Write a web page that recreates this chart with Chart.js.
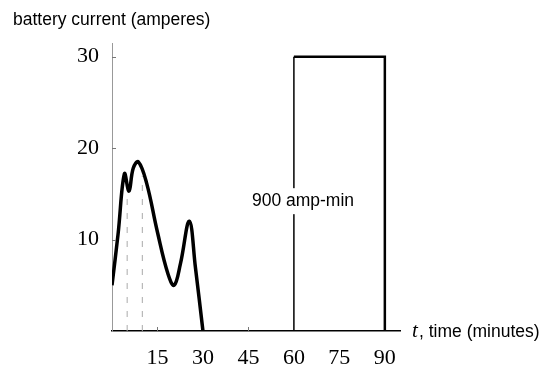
<!DOCTYPE html>
<html>
<head>
<meta charset="utf-8">
<script src="https://cdn.jsdelivr.net/npm/chart.js@4"></script>
<style>
  html, body { margin: 0; padding: 0; background: #fff; }
  #wrap { position: relative; width: 544px; height: 367px; }
</style>
</head>
<body>
<div id="wrap"><canvas id="chart" width="544" height="367"></canvas></div>
<script>
// battery current curve (minutes, amperes)
const times = [0, 2, 4.1, 5.6, 7, 8.7, 11.4, 15, 18.5, 20.5, 22.6, 25.5, 27.5, 30];
const amps = [5, 10.6, 17.2, 15.3, 17.8, 18.5, 16.2, 10.8, 6.2, 5.0, 7.4, 12.0, 7.0, 0];
// idle stretch
const idleTimes = [30, 60];
const idleAmps = [0, 0];
// constant 30 A block from 60 to 90 min
const blockTimes = [60, 60, 90, 90];
const blockAmps = [0, 30, 30, 0];
// faint drop lines
const dropTimes = [5, 10];
const dropTops = [15, 17];

const xTicks = [15, 30, 45, 60, 75, 90];
const yTicks = [10, 20, 30];
const blockLabel = '900 amp-min';

function pts(xs, ys) { return xs.map((x, i) => ({ x: x, y: ys[i] })); }

const dropSets = dropTimes.map((t, i) => ({
    data: pts([t, t], [0, dropTops[i]]),
    borderColor: '#aaa',
    borderWidth: 1,
    borderDash: [6, 8],
    pointRadius: 0
}));

const textPlugin = {
    id: 'texts',
    afterDatasetsDraw(chart) {
        const ctx = chart.ctx;
        const xs = chart.scales.x, ys = chart.scales.y;
        ctx.save();
        // small inner ticks
        ctx.strokeStyle = '#777';
        ctx.lineWidth = 1;
        yTicks.forEach(v => {
            const y = Math.round(ys.getPixelForValue(v)) + 0.5;
            ctx.beginPath(); ctx.moveTo(xs.left, y); ctx.lineTo(xs.left + 4, y); ctx.stroke();
        });
        [15, 45].forEach(v => {
            const x = Math.round(xs.getPixelForValue(v)) + 0.5;
            ctx.beginPath(); ctx.moveTo(x, ys.bottom); ctx.lineTo(x, ys.bottom - 4); ctx.stroke();
        });

        // block label with white backing
        ctx.font = '17.5px "Liberation Sans", Arial, sans-serif';
        ctx.textBaseline = 'middle';
        ctx.textAlign = 'center';
        const lx = xs.getPixelForValue(63), ly = ys.getPixelForValue(14.2);
        const w = ctx.measureText(blockLabel).width;
        ctx.fillStyle = '#fff';
        ctx.fillRect(lx - w / 2 - 3, ly - 13, w + 6, 26);
        ctx.fillStyle = '#000';
        ctx.fillText(blockLabel, lx, ly);

        // axis titles
        ctx.textAlign = 'left';
        ctx.textBaseline = 'alphabetic';
        ctx.font = '17.5px "Liberation Sans", Arial, sans-serif';
        ctx.fillText('battery current (amperes)', 13, 25);
        ctx.font = 'italic 21px "Liberation Serif", serif';
        ctx.fillText('t', 412, 337);
        ctx.font = '17.5px "Liberation Sans", Arial, sans-serif';
        ctx.fillText(', time (minutes)', 419, 337);
        ctx.restore();
    }
};

new Chart(document.getElementById('chart'), {
    type: 'line',
    data: {
        datasets: [
            ...dropSets,
            {
                data: pts(times, amps),
                borderColor: '#000',
                borderWidth: 3.5,
                tension: 0.4,
                pointRadius: 0
            },
            {
                data: pts(idleTimes, idleAmps),
                borderColor: '#000',
                borderWidth: 2,
                pointRadius: 0
            },
            {
                data: pts(blockTimes.slice(0, 2), blockAmps.slice(0, 2)),
                borderColor: '#000',
                borderWidth: 1.5,
                pointRadius: 0
            },
            {
                data: pts(blockTimes.slice(1), blockAmps.slice(1)),
                borderColor: '#000',
                borderWidth: 2.5,
                pointRadius: 0
            }
        ]
    },
    options: {
        responsive: false,
        animation: false,
        layout: { padding: { top: 43, right: 144, left: 0, bottom: 0 } },
        plugins: { legend: { display: false }, tooltip: { enabled: false } },
        scales: {
            x: {
                type: 'linear',
                min: 0,
                max: 95,
                afterBuildTicks: s => { s.ticks = xTicks.map(v => ({ value: v })); },
                afterFit: s => { s.height = 36; },
                grid: { display: false, drawTicks: false },
                border: { display: true, color: '#000', width: 1.5 },
                ticks: {
                    padding: 14,
                    color: '#000',
                    font: { family: '"Liberation Serif", serif', size: 22 }
                }
            },
            y: {
                min: 0,
                max: 31.5,
                afterBuildTicks: s => { s.ticks = yTicks.map(v => ({ value: v })); },
                afterFit: s => { s.width = 112; },
                grid: { display: false, drawTicks: false },
                border: { display: true, color: '#999', width: 1 },
                ticks: {
                    padding: 13,
                    color: '#000',
                    font: { family: '"Liberation Serif", serif', size: 22 }
                }
            }
        }
    },
    plugins: [textPlugin]
});
</script>
</body>
</html>
